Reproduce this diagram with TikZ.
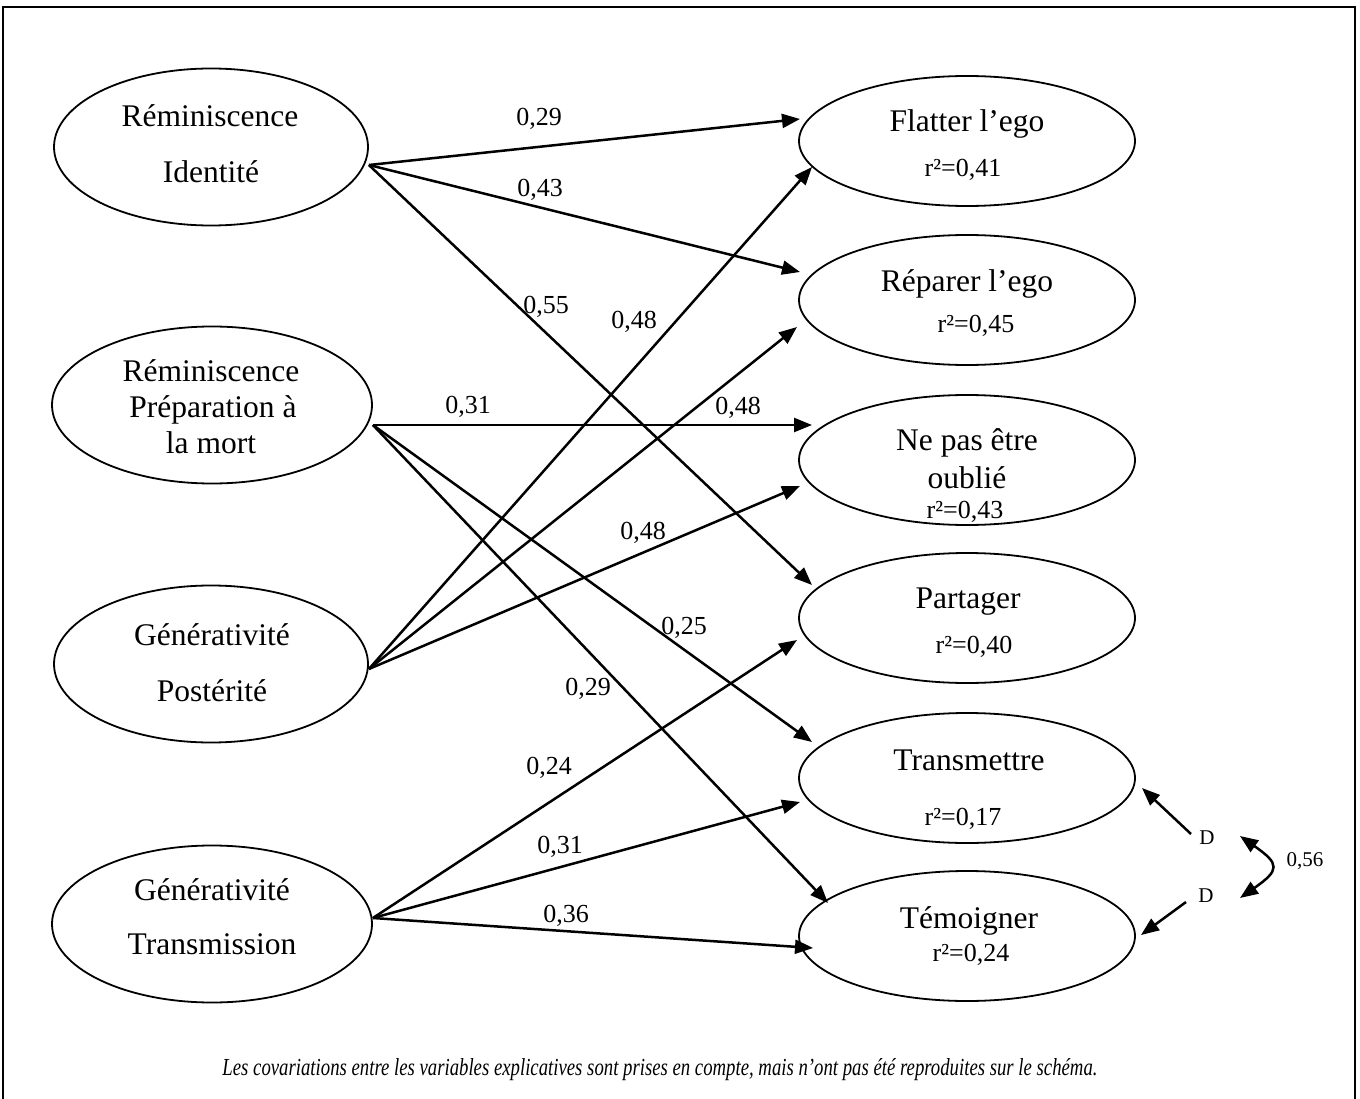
\documentclass[tikz,border=0pt]{standalone}
\usepackage{graphicx}
\usepackage{fontspec}
\setmainfont{Liberation Serif}
\usetikzlibrary{arrows.meta,shapes.geometric,calc}
\newcommand\bigtxt{\fontsize{31.5}{36}\selectfont}
\newcommand\smalltxt{\fontsize{26}{30}\selectfont}
\newcommand\tinytxt{\fontsize{21}{24}\selectfont}
\begin{document}
\begin{tikzpicture}[x=1pt,y=-1pt,
  lell/.style={ellipse,draw,line width=1.8pt,inner sep=0pt,minimum width=#1,minimum height=157pt},
  rell/.style={ellipse,draw,line width=1.8pt,inner sep=0pt,minimum width=336pt,minimum height=130pt},
  bt/.style={font=\bigtxt,inner sep=0pt,anchor=base},
  st/.style={font=\smalltxt,inner sep=0pt,anchor=base},
  dt/.style={font=\tinytxt,inner sep=0pt},
  arr/.style={-{Triangle[length=18pt,width=14pt]},line width=2.5pt},
  darr/.style={{Triangle[length=18pt,width=14pt]}-{Triangle[length=18pt,width=14pt]},line width=2.5pt}]
\useasboundingbox (0,0) rectangle (1360,1099);
\clip (0,0) rectangle (1360,1099);
% frame
\draw[line width=2pt] (3,1110) -- (3,7) -- (1355,7) -- (1355,1110);

% left ellipses
\node[lell=314pt] (L1) at (211,147) {};
\node[lell=320pt] (L2) at (212,405) {};
\node[lell=314pt] (L3) at (211,664) {};
\node[lell=320pt] (L4) at (212,924) {};
\node[bt] (L1a) at (210,127) {Réminiscence};
\node[bt] (L1b) at (211,183) {Identité};
\node[bt] (L2a) at (211,381) {Réminiscence};
\node[bt] (L2b) at (213,417) {Préparation à};
\node[bt] (L2c) at (211,453) {la mort};
\node[bt] (L3a) at (212,645) {Générativité};
\node[bt] (L3b) at (212,701) {Postérité};
\node[bt] (L4a) at (212,900) {Générativité};
\node[bt] (L4b) at (212,954) {Transmission};

% right ellipses
\node[rell] (R1) at (967,141) {};
\node[rell] (R2) at (967,300) {};
\node[rell] (R3) at (967,460) {};
\node[rell] (R4) at (967,618) {};
\node[rell] (R5) at (967,778) {};
\node[rell] (R6) at (967,936) {};
\node[bt] (R1a) at (967,132) {Flatter l’ego};
\node[st] (R1b) at (963,177) {r²=0,41};
\node[bt] (R2a) at (967,292) {Réparer l’ego};
\node[st] (R2b) at (976,332) {r²=0,45};
\node[bt] (R3a) at (967,450) {Ne pas être};
\node[bt] (R3b) at (967,488) {oublié};
\node[st] (R3c) at (965,518) {r²=0,43};
\node[bt] (R4a) at (968,608) {Partager};
\node[st] (R4b) at (974,653) {r²=0,40};
\node[bt] (R5a) at (969,770) {Transmettre};
\node[st] (R5b) at (963,825) {r²=0,17};
\node[bt] (R6a) at (969,928) {Témoigner};
\node[st] (R6b) at (971,961) {r²=0,24};

% sources
\coordinate (s1) at ($(L1.east)+(0,18)$);
\coordinate (s2) at ($(L2.east)+(0,20)$);
\coordinate (s3) at ($(L3.east)+(0,5)$);
\coordinate (s4) at ($(L4.east)+(0,-6)$);

% paths
\draw[arr] (s1) -- ($(R1.center)+(-167,-22)$);
\draw[arr] (s1) -- ($(R2.center)+(-167,-28)$);
\draw[arr] (s1) -- ($(R4.center)+(-155,-33)$);
\draw[arr] (s2) -- ($(R3.center)+(-155,-35)$);
\draw[arr] (s2) -- ($(R5.center)+(-155,-36)$);
\draw[arr] (s2) -- ($(R6.center)+(-139,-33)$);
\draw[arr] (s3) -- ($(R1.center)+(-155,26)$);
\draw[arr] (s3) -- ($(R2.center)+(-170,27)$);
\draw[arr] (s3) -- ($(R3.center)+(-167,26)$);
\draw[arr] (s4) -- ($(R4.center)+(-170,22)$);
\draw[arr] (s4) -- ($(R5.center)+(-167,24)$);
\draw[arr] (s4) -- ($(R6.center)+(-154,12)$);

% coefficients
\node[st] (c1) at (539,126) {0,29};
\node[st] (c2) at (540,197) {0,43};
\node[st] (c3) at (546,314) {0,55};
\node[st] (c4) at (634,328) {0,48};
\node[st] (c5) at (468,413) {0,31};
\node[st] (c6) at (738,414) {0,48};
\node[st] (c7) at (643,539) {0,48};
\node[st] (c8) at (684,634) {0,25};
\node[st] (c9) at (588,695) {0,29};
\node[st] (c10) at (549,774) {0,24};
\node[st] (c11) at (560,853) {0,31};
\node[st] (c12) at (566,922) {0,36};

% disturbances
\node[dt] (D1) at (1207,838) {D};
\node[dt] (D2) at (1206,896) {D};
\draw[arr] ($(D1.center)+(-16,-4)$) -- ($(R5.center)+(175,10)$);
\draw[arr] ($(D2.center)+(-20,6)$) -- ($(R6.center)+(174,-1)$);
\draw[darr] ($(D1.center)+(33,-2)$) .. controls (1280,864) and (1280,870) .. ($(D2.center)+(34,2)$);
\node[dt,anchor=base] (c13) at (1305,866) {0,56};

% caption
\node[anchor=base,inner sep=0pt] (cap) at (660,1075) {\resizebox{875pt}{17pt}{\itshape\fontsize{22}{26}\selectfont Les covariations entre les variables explicatives sont prises en compte, mais n’ont pas été reproduites sur le schéma.}};
\end{tikzpicture}
\end{document}
